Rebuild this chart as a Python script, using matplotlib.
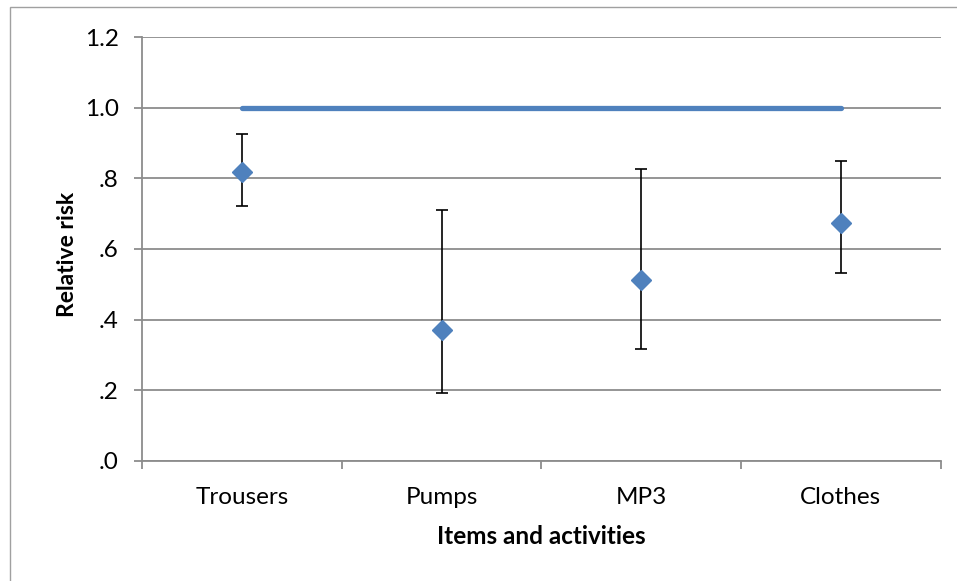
import matplotlib
matplotlib.use("Agg")
import matplotlib.pyplot as plt
from matplotlib.patches import Rectangle
import numpy as np

# ---- data -----------------------------------------------------------
items = ["Trousers", "Pumps", "MP3", "Clothes"]
rr = [0.818, 0.370, 0.511, 0.674]
ci_upper = [0.927, 0.710, 0.828, 0.849]
ci_lower = [0.722, 0.193, 0.316, 0.533]
ref_line = [1.0, 1.0, 1.0, 1.0]
yticks = [0.0, 0.2, 0.4, 0.6, 0.8, 1.0, 1.2]
ytick_labels = [".0", ".2", ".4", ".6", ".8", "1.0", "1.2"]

blue = "#4F81BD"
grid = "#8C8C8C"
plt.rcParams["font.family"] = ["Lato", "DejaVu Sans"]

fig = plt.figure(figsize=(9.57, 5.81), dpi=100)
ax = fig.add_axes([0.1487, 0.2071, 0.9828 - 0.1487, 0.9358 - 0.2071])

# outer chart border (only left/top visible in the crop)
fig.patches.append(Rectangle((9.5 / 957, -0.05), 1.2, 1 - 7.5 / 581 + 0.05,
                             transform=fig.transFigure, fill=False,
                             edgecolor="#A0A0A0", linewidth=1.0))

x = np.arange(len(items))
ax.plot(x, ref_line, color=blue, linewidth=3.8, solid_capstyle="round", zorder=2)

rr_a = np.array(rr)
yerr = [rr_a - np.array(ci_lower), np.array(ci_upper) - rr_a]
ax.errorbar(x, rr, yerr=yerr, fmt="none", ecolor="black", elinewidth=1.2,
            capsize=4, capthick=1.2, zorder=3)
ax.plot(x, rr, linestyle="none", marker="D", markersize=10,
        color=blue, zorder=4)

ax.set_xlim(-0.5, len(items) - 0.5)
ax.set_ylim(0, 1.2)
ax.set_yticks(yticks)
ax.set_yticklabels(ytick_labels)
ax.set_xticks(x)
ax.set_xticklabels(items)
ax.set_xticks(np.arange(-0.5, len(items)), minor=True)
ax.tick_params(axis="x", which="major", length=0, pad=19, labelsize=17.5)
ax.tick_params(axis="x", which="minor", length=6, width=1.3, color=grid,
               direction="out")
ax.tick_params(axis="y", length=6, width=1.3, color=grid, pad=11, labelsize=17.5)

ax.yaxis.grid(True, color=grid, linewidth=1.3)
ax.set_axisbelow(True)
for s in ["top", "right"]:
    ax.spines[s].set_visible(False)
for s in ["left", "bottom"]:
    ax.spines[s].set_color(grid)
    ax.spines[s].set_linewidth(1.3)

ax.set_xlabel("Items and activities", fontsize=17.5, fontweight="bold", labelpad=12)
ax.set_ylabel("Relative risk", fontsize=16.5, fontweight="bold")
ax.yaxis.set_label_coords(-0.0806, 0.486)

fig.savefig("out.png", dpi=100)
